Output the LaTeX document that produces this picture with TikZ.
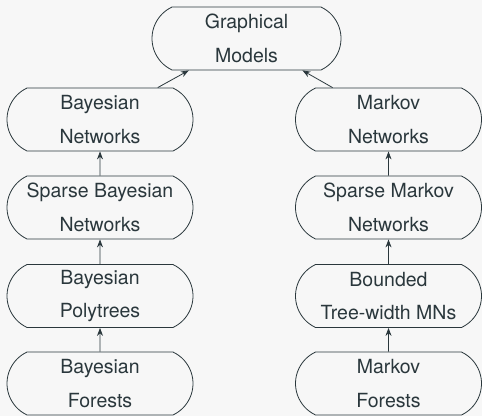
\documentclass[tikz,border=0pt]{standalone}
\usepackage{fontspec}
\setmainfont{TeX Gyre Heros}
\usetikzlibrary{shapes.misc,arrows.meta}
\definecolor{ink}{HTML}{2A373C}
\definecolor{bgc}{HTML}{F7F7F7}
\begin{document}
\begin{tikzpicture}[x=1pt,y=-1pt,
  box/.style={draw=ink, text=ink, rounded rectangle, rounded rectangle arc length=130,
    minimum width=186pt, minimum height=63pt, inner sep=0pt, align=center,
    font=\fontsize{19.5}{33.4}\selectfont, line width=0.8pt},
  link/.style={draw=ink, line width=0.8pt, -{Stealth[length=8pt,width=6pt]}}]
\fill[bgc] (0,0) rectangle (482,416);
\useasboundingbox (0,0) rectangle (482,416);
\node[box, minimum width=189pt] (gm) at (246.5,38.5) {Graphical\\Models};
\node[box] (bn) at (100,119.5) {Bayesian\\Networks};
\node[box] (sbn) at (100,207.5) {Sparse Bayesian\\Networks};
\node[box] (bp) at (100,296) {Bayesian\\Polytrees};
\node[box] (bf) at (100,383.5) {Bayesian\\Forests};
\node[box] (mn) at (388.5,119.5) {Markov\\Networks};
\node[box] (smn) at (388.5,207.5) {Sparse Markov\\Networks};
\node[box] (bt) at (388.5,296) {Bounded\\Tree-width MNs};
\node[box] (mf) at (388.5,383.5) {Markov\\Forests};
\draw[link] (bn) -- (gm);
\draw[link] (mn) -- (gm);
\draw[link] (sbn) -- (bn);
\draw[link] (bp) -- (sbn);
\draw[link] (bf) -- (bp);
\draw[link] (smn) -- (mn);
\draw[link] (bt) -- (smn);
\draw[link] (mf) -- (bt);
\end{tikzpicture}
\end{document}
